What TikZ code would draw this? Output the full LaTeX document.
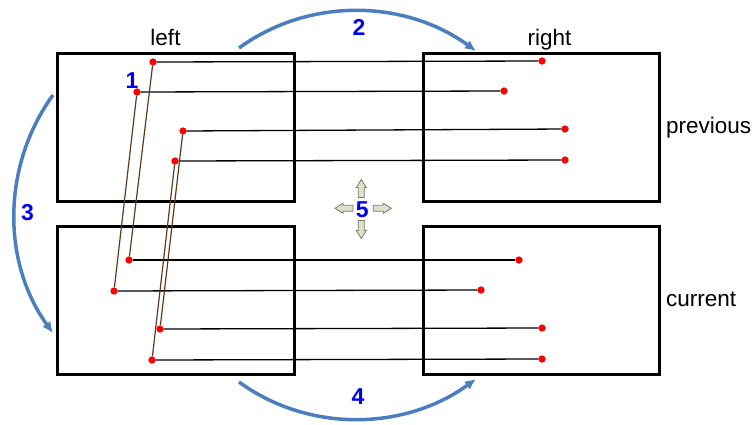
\documentclass[tikz,border=0pt]{standalone}
\usepackage{fontspec}
\setmainfont{Liberation Sans}
\usetikzlibrary{arrows.meta}
\definecolor{arcblue}{HTML}{4A7EBF}
\definecolor{numblue}{HTML}{0000EE}
\definecolor{brownline}{HTML}{5C3A1E}
\definecolor{arrowfill}{HTML}{DDE0CC}
\definecolor{arrowedge}{HTML}{7A7A6A}
\begin{document}
\begin{tikzpicture}[x=1pt,y=-1pt,
  frame/.style={draw=black,line width=3pt,minimum width=236.3pt,minimum height=148.6pt,inner sep=0pt},
  dot/.style={circle,fill=red,inner sep=0pt,minimum size=7pt},
  link/.style={black,line width=1.3pt},
  cross/.style={brownline,line width=1.2pt},
  flow/.style={arcblue,line width=3.5pt,-{Latex[length=11pt,width=10pt]}},
  lbl/.style={font=\fontsize{22.5}{27}\selectfont,inner sep=0pt},
  num/.style={font=\fontsize{23}{27}\selectfont\bfseries,text=numblue,inner sep=0pt},
  blockarrow/.pic={\draw[arrowedge,fill=arrowfill,line width=0.8pt] (0,-3)--(10,-3)--(10,-5)--(18,0)--(10,5)--(10,3)--(0,3)--cycle;}
]
\useasboundingbox (0,0) rectangle (756,424);
% frames
\node[frame] (tl) at (175.85,127.5) {};
\node[frame] (bl) at (175.85,300.4) {};
\node[frame] (tr) at (541.65,127.5) {};
\node[frame] (br) at (541.65,300.4) {};
% points
\node[dot] (p1) at (153,62) {};
\node[dot] (p2) at (137,92) {};
\node[dot] (p3) at (183,131) {};
\node[dot] (p4) at (175,161) {};
\node[dot] (r1) at (542,61) {};
\node[dot] (r2) at (504,91) {};
\node[dot] (r3) at (565,129) {};
\node[dot] (r4) at (565,160) {};
\node[dot] (q1) at (129,260) {};
\node[dot] (q2) at (114,291) {};
\node[dot] (q3) at (160,329) {};
\node[dot] (q4) at (152,360) {};
\node[dot] (s1) at (519,260) {};
\node[dot] (s2) at (481,290) {};
\node[dot] (s3) at (542,328) {};
\node[dot] (s4) at (542,359) {};
% connectors
\foreach \a/\b in {p1/r1,p2/r2,p3/r3,p4/r4,q1/s1,q2/s2,q3/s3,q4/s4}
  \draw[link] (\a) -- (\b);
\foreach \a/\b in {p1/q1,p2/q2,p3/q3,p4/q4}
  \draw[cross] (\a) -- (\b);
% redraw dots on top
\foreach \n/\pos in {p1/{(153,62)},p2/{(137,92)},p3/{(183,131)},p4/{(175,161)},r1/{(542,61)},r2/{(504,91)},r3/{(565,129)},r4/{(565,160)},q1/{(129,260)},q2/{(114,291)},q3/{(160,329)},q4/{(152,360)},s1/{(519,260)},s2/{(481,290)},s3/{(542,328)},s4/{(542,359)}}
  \fill[red] \pos circle[radius=3.5pt];
% labels
\node[lbl,anchor=base] (tleft) at (165.5,45) {left};
\node[lbl,anchor=base] (tright) at (549.5,45) {right};
\node[lbl,anchor=base west] (tprev) at (666,133) {previous};
\node[lbl,anchor=base west] (tcur) at (666,306) {current};
% numbers
\node[num,anchor=base] (n1) at (132,88) {1};
\node[num,anchor=base] (n2) at (359,35) {2};
\node[num,anchor=base] (n3) at (27.5,220) {3};
\node[num,anchor=base] (n4) at (358,404) {4};
\node[num,anchor=base] (n5) at (362.3,217.5) {5};
% blue flow arcs
\coordinate (a2s) at (239,48);
\coordinate (a2e) at (476,51);
\coordinate (a3s) at (53,95);
\coordinate (a3e) at (53,333);
\coordinate (a4s) at (239,382);
\coordinate (a4e) at (476,379);
\draw[flow] (a2s) .. controls (309.6,-3.3) and (405.4,-0.3) .. (a2e);
\draw[flow] (a3s) .. controls (1.7,165.6) and (1.7,262.4) .. (a3e);
\draw[flow] (a4s) .. controls (309.6,433.3) and (405.4,430.3) .. (a4e);
% block arrows around 5
\pic at (373.3,208.3) {blockarrow};
\pic[rotate=180] at (353,208.3) {blockarrow};
\pic[rotate=90] at (361.3,197.5) {blockarrow};
\pic[rotate=-90] at (361.3,220.5) {blockarrow};
\end{tikzpicture}
\end{document}
